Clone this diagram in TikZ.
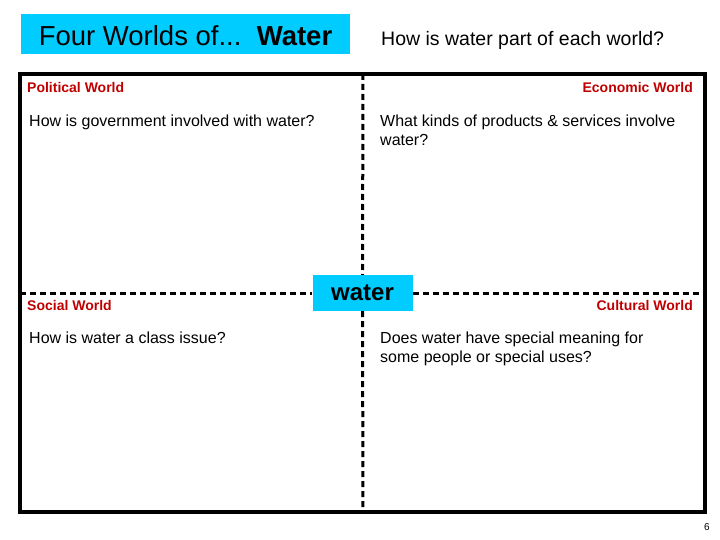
\documentclass[tikz,border=0pt]{standalone}
\usepackage{fontspec}
\setmainfont{Liberation Sans}
\usetikzlibrary{positioning}

\definecolor{boxCyan}{HTML}{00CCFF}
\definecolor{worldRed}{HTML}{C00000}

\tikzset{
    titleBox/.style={fill=boxCyan, inner sep=0pt},
    worldLabel/.style={font=\fontsize{14}{16}\selectfont\bfseries, text=worldRed, inner sep=0pt},
    question/.style={font=\fontsize{16}{19}\selectfont, align=left, inner sep=0pt, anchor=north west},
    frameLine/.style={line width=4pt},
    dashLine/.style={line width=3pt, dash pattern=on 6pt off 4pt}
}

\begin{document}
\begin{tikzpicture}[x=1pt, y=-1pt]
    \useasboundingbox (0,0) rectangle (720,540);

    % Title row
    \node[titleBox, minimum width=329pt, minimum height=40pt, text height=24pt, text depth=0pt,
          font=\fontsize{27.5}{32}\selectfont] (title) at (185.5,34)
          {Four Worlds of...\ \ \textbf{Water}};
    \node[inner sep=0pt, anchor=base west, font=\fontsize{19.5}{23}\selectfont] (ask)
          at (381,46) {How is water part of each world?};

    % Define the frame corners and midpoints
    \coordinate (TL) at (20,74);
    \coordinate (BR) at (705,512);
    \coordinate (TM) at (363,74);
    \coordinate (BM) at (363,512);
    \coordinate (LM) at (20,293);
    \coordinate (RM) at (705,293);

    % Draw the frame
    \draw[frameLine] (TL) rectangle (BR);

    % Centre box
    \node[titleBox, minimum width=100pt, minimum height=36pt,
          font=\fontsize{24}{28}\selectfont\bfseries] (water) at (362.5,293) {water};

    % Draw the dashed quadrant lines
    \draw[dashLine] (TM) -- (water.north);
    \draw[dashLine] (water.south) -- (BM);
    \draw[dashLine] (LM) -- (water.west);
    \draw[dashLine] (water.east) -- (RM);

    % World labels
    \node[worldLabel, anchor=base west] (political) at (27,93) {Political World};
    \node[worldLabel, anchor=base east] (economic) at (693,93) {Economic World};
    \node[worldLabel, anchor=base west] (social) at (27,310) {Social World};
    \node[worldLabel, anchor=base east] (cultural) at (693,310) {Cultural World};

    % Questions
    \node[question] (qPolitical) at (29,115) {How is government involved with water?};
    \node[question] (qEconomic) at (380,115) {What kinds of products \& services involve\\water?};
    \node[question] (qSocial) at (29,332) {How is water a class issue?};
    \node[question] (qCultural) at (380,332) {Does water have special meaning for\\some people or special uses?};

    % Page number
    \node[inner sep=0pt, anchor=base east, font=\fontsize{10}{12}\selectfont] (page) at (710,530) {6};
\end{tikzpicture}
\end{document}
